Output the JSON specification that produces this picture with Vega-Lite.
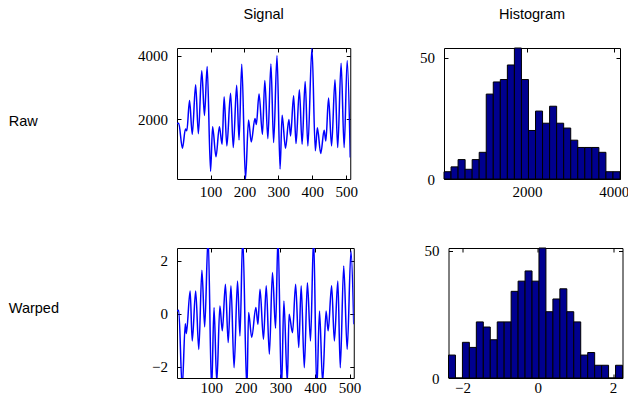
{
  "$schema": "https://vega.github.io/schema/vega-lite/v6.json",
  "padding": {"left": 7, "top": 6, "right": 5, "bottom": 5},
  "background": "white",
  "config": {
    "view": {"stroke": "#000000", "strokeWidth": 1},
    "axis": {"domain": false, "grid": false, "ticks": true, "tickColor": "#000000", "tickSize": -4, "tickWidth": 1, "labelFont": "Liberation Serif", "labelFontSize": 15, "labelColor": "#000000", "titleFont": "Liberation Sans", "titleFontSize": 14.5, "titleFontWeight": "normal", "titleColor": "#000000"},
    "axisY": {"labelPadding": 13.5},
    "title": {"font": "Liberation Sans", "fontSize": 14.5, "fontWeight": "normal", "color": "#000000", "baseline": "bottom", "offset": 25, "anchor": "middle"}
  },
  "datasets": {
    "raw": [
      {"t": 1, "v": 1874}, {"t": 6, "v": 1880}, {"t": 17, "v": 1093}, {"t": 26, "v": 1700}, {"t": 30, "v": 1640}, {"t": 38, "v": 2593}, {"t": 46, "v": 1531}, {"t": 56, "v": 3094}, {"t": 64, "v": 1551}, {"t": 74, "v": 3531}, {"t": 82, "v": 2125}, {"t": 90, "v": 3667}, {"t": 100, "v": 364}, {"t": 106, "v": 1770}, {"t": 116, "v": 822}, {"t": 126, "v": 1770}, {"t": 134, "v": 1218}, {"t": 140, "v": 2718}, {"t": 148, "v": 1166}, {"t": 159, "v": 2823}, {"t": 167, "v": 1114}, {"t": 177, "v": 3073}, {"t": 184, "v": 1353}, {"t": 192, "v": 3740}, {"t": 203, "v": 124}, {"t": 212, "v": 1979}, {"t": 220, "v": 1291}, {"t": 231, "v": 2031}, {"t": 235, "v": 1843}, {"t": 243, "v": 2802}, {"t": 253, "v": 1531}, {"t": 260, "v": 3229}, {"t": 269, "v": 1395}, {"t": 278, "v": 3750}, {"t": 286, "v": 1270}, {"t": 296, "v": 4011}, {"t": 305, "v": 437}, {"t": 311, "v": 2135}, {"t": 321, "v": 1093}, {"t": 331, "v": 1999}, {"t": 336, "v": 1478}, {"t": 345, "v": 2750}, {"t": 352, "v": 1239}, {"t": 362, "v": 2937}, {"t": 370, "v": 1218}, {"t": 379, "v": 3198}, {"t": 387, "v": 1166}, {"t": 399, "v": 4250}, {"t": 409, "v": 1010}, {"t": 415, "v": 1739}, {"t": 425, "v": 926}, {"t": 435, "v": 1656}, {"t": 440, "v": 1322}, {"t": 448, "v": 2677}, {"t": 457, "v": 1166}, {"t": 467, "v": 3250}, {"t": 475, "v": 1114}, {"t": 485, "v": 3771}, {"t": 494, "v": 1114}, {"t": 503, "v": 3854}, {"t": 512, "v": 801}
    ],
    "warped": [
      {"t": 1, "v": 0.10}, {"t": 6, "v": 0.13}, {"t": 16, "v": -2.8}, {"t": 25, "v": -0.38}, {"t": 28, "v": -0.75}, {"t": 39, "v": 0.86}, {"t": 45, "v": -1.03}, {"t": 55, "v": 0.86}, {"t": 64, "v": -1.35}, {"t": 73, "v": 1.64}, {"t": 81, "v": -0.50}, {"t": 91, "v": 2.9}, {"t": 101, "v": -2.9}, {"t": 108, "v": 0.23}, {"t": 116, "v": -2.6}, {"t": 125, "v": 0.29}, {"t": 132, "v": -0.65}, {"t": 141, "v": 1.11}, {"t": 149, "v": -1.09}, {"t": 157, "v": 1.05}, {"t": 166, "v": -2.04}, {"t": 176, "v": 1.23}, {"t": 183, "v": -0.84}, {"t": 191, "v": 2.9}, {"t": 203, "v": -2.9}, {"t": 208, "v": 0.04}, {"t": 217, "v": -0.90}, {"t": 229, "v": 0.23}, {"t": 235, "v": -0.40}, {"t": 241, "v": 0.92}, {"t": 251, "v": -0.97}, {"t": 259, "v": 1.05}, {"t": 268, "v": -1.53}, {"t": 277, "v": 1.55}, {"t": 286, "v": -0.55}, {"t": 293, "v": 2.9}, {"t": 303, "v": -2.9}, {"t": 310, "v": 0.48}, {"t": 320, "v": -2.6}, {"t": 325, "v": -0.02}, {"t": 335, "v": -0.72}, {"t": 344, "v": 1.11}, {"t": 353, "v": -1.28}, {"t": 360, "v": 1.05}, {"t": 369, "v": -2.04}, {"t": 378, "v": 1.17}, {"t": 387, "v": -1.03}, {"t": 396, "v": 2.9}, {"t": 405, "v": -2.9}, {"t": 413, "v": 0.10}, {"t": 422, "v": -2.6}, {"t": 432, "v": 0.10}, {"t": 438, "v": -0.65}, {"t": 448, "v": 1.05}, {"t": 456, "v": -1.03}, {"t": 466, "v": 1.23}, {"t": 473, "v": -2.04}, {"t": 483, "v": 1.80}, {"t": 493, "v": -1.35}, {"t": 504, "v": 2.37}, {"t": 512, "v": -0.40}
    ],
    "hraw": [
      {"x0": 85, "x1": 247.4, "n": 3}, {"x0": 247.4, "x1": 409.8, "n": 5}, {"x0": 409.8, "x1": 572.2, "n": 8}, {"x0": 572.2, "x1": 734.6, "n": 4}, {"x0": 734.6, "x1": 897, "n": 8}, {"x0": 897, "x1": 1059.4, "n": 11}, {"x0": 1059.4, "x1": 1221.8, "n": 35}, {"x0": 1221.8, "x1": 1384.2, "n": 40}, {"x0": 1384.2, "x1": 1546.6, "n": 41}, {"x0": 1546.6, "x1": 1709, "n": 47}, {"x0": 1709, "x1": 1871.4, "n": 54}, {"x0": 1871.4, "x1": 2033.8, "n": 41}, {"x0": 2033.8, "x1": 2196.2, "n": 20}, {"x0": 2196.2, "x1": 2358.6, "n": 28}, {"x0": 2358.6, "x1": 2521, "n": 23}, {"x0": 2521, "x1": 2683.4, "n": 30}, {"x0": 2683.4, "x1": 2845.8, "n": 23}, {"x0": 2845.8, "x1": 3008.2, "n": 21}, {"x0": 3008.2, "x1": 3170.6, "n": 16}, {"x0": 3170.6, "x1": 3333, "n": 13}, {"x0": 3333, "x1": 3495.4, "n": 13}, {"x0": 3495.4, "x1": 3657.8, "n": 13}, {"x0": 3657.8, "x1": 3820.2, "n": 11}, {"x0": 3820.2, "x1": 3982.6, "n": 3}, {"x0": 3982.6, "x1": 4145, "n": 3}
    ],
    "hwarp": [
      {"x0": -2.370, "x1": -2.185, "n": 9}, {"x0": -2.185, "x1": -2.000, "n": 0}, {"x0": -2.000, "x1": -1.816, "n": 14}, {"x0": -1.816, "x1": -1.631, "n": 12}, {"x0": -1.631, "x1": -1.446, "n": 22}, {"x0": -1.446, "x1": -1.261, "n": 20}, {"x0": -1.261, "x1": -1.076, "n": 15}, {"x0": -1.076, "x1": -0.892, "n": 22}, {"x0": -0.892, "x1": -0.707, "n": 22}, {"x0": -0.707, "x1": -0.522, "n": 34}, {"x0": -0.522, "x1": -0.337, "n": 38}, {"x0": -0.337, "x1": -0.152, "n": 42}, {"x0": -0.152, "x1": 0.032, "n": 38}, {"x0": 0.032, "x1": 0.217, "n": 51}, {"x0": 0.217, "x1": 0.402, "n": 26}, {"x0": 0.402, "x1": 0.587, "n": 31}, {"x0": 0.587, "x1": 0.772, "n": 35}, {"x0": 0.772, "x1": 0.956, "n": 26}, {"x0": 0.956, "x1": 1.141, "n": 22}, {"x0": 1.141, "x1": 1.326, "n": 9}, {"x0": 1.326, "x1": 1.511, "n": 10}, {"x0": 1.511, "x1": 1.696, "n": 5}, {"x0": 1.696, "x1": 1.880, "n": 5}, {"x0": 1.880, "x1": 2.065, "n": 0}, {"x0": 2.065, "x1": 2.250, "n": 5}
    ]
  },
  "bounds": "full",
  "spacing": 42,
  "vconcat": [
    {
      "bounds": "flush",
      "spacing": 93,
      "hconcat": [
        {
          "width": 173.25, "height": 131,
          "title": {"text": "Signal"},
          "data": {"name": "raw"},
          "resolve": {"axis": {"x": "independent", "y": "independent"}},
          "layer": [
            {
              "mark": {"type": "line", "color": "#0000ff", "strokeWidth": 1.5, "interpolate": "monotone", "clip": true},
              "encoding": {
                "x": {"field": "t", "type": "quantitative", "scale": {"domain": [1, 512], "nice": false, "zero": false}, "axis": {"values": [100, 200, 300, 400, 500], "format": "d", "title": null, "labelPadding": 9.7}},
                "y": {"field": "v", "type": "quantitative", "scale": {"domain": [124, 4250], "nice": false, "zero": false}, "axis": {"values": [2000, 4000], "format": "d", "title": "Raw", "titleAngle": 0, "titleAlign": "left", "titleBaseline": "middle", "titleX": -168.75, "titleY": 73}}
              }
            },
            {
              "mark": {"type": "line", "opacity": 0, "clip": true},
              "encoding": {
                "x": {"field": "t", "type": "quantitative", "scale": {"domain": [1, 512], "nice": false, "zero": false}, "axis": {"orient": "top", "values": [100, 200, 300, 400, 500], "labels": false, "title": null}},
                "y": {"field": "v", "type": "quantitative", "scale": {"domain": [124, 4250], "nice": false, "zero": false}, "axis": {"orient": "right", "values": [2000, 4000], "labels": false, "title": null}}
              }
            }
          ]
        },
        {
          "width": 176, "height": 131,
          "title": {"text": "Histogram"},
          "data": {"name": "hraw"},
          "resolve": {"axis": {"x": "independent", "y": "independent"}},
          "layer": [
            {
              "mark": {"type": "rect", "fill": "#00008f", "stroke": "#000000", "strokeWidth": 1},
              "encoding": {
                "x": {"field": "x0", "type": "quantitative", "scale": {"domain": [85, 4145], "nice": false, "zero": false}, "axis": {"values": [2000, 4000], "format": "d", "title": null, "labelPadding": 9.7}},
                "x2": {"field": "x1"},
                "y": {"field": "n", "type": "quantitative", "scale": {"domain": [0, 54], "nice": false}, "axis": {"values": [0, 50], "format": "d", "title": null}},
                "y2": {"datum": 0}
              }
            },
            {
              "mark": {"type": "rect", "opacity": 0},
              "encoding": {
                "x": {"field": "x0", "type": "quantitative", "scale": {"domain": [85, 4145], "nice": false, "zero": false}, "axis": {"orient": "top", "values": [2000, 4000], "labels": false, "title": null}},
                "x2": {"field": "x1"},
                "y": {"field": "n", "type": "quantitative", "scale": {"domain": [0, 54], "nice": false}, "axis": {"orient": "right", "values": [0, 50], "labels": false, "title": null}},
                "y2": {"datum": 0}
              }
            }
          ]
        }
      ]
    },
    {
      "bounds": "flush",
      "spacing": 94.5,
      "hconcat": [
        {
          "width": 176.75, "height": 130,
          "data": {"name": "warped"},
          "resolve": {"axis": {"x": "independent", "y": "independent"}},
          "layer": [
            {
              "mark": {"type": "line", "color": "#0000ff", "strokeWidth": 1.5, "interpolate": "monotone", "clip": true},
              "encoding": {
                "x": {"field": "t", "type": "quantitative", "scale": {"domain": [1, 512], "nice": false, "zero": false}, "axis": {"values": [100, 200, 300, 400, 500], "format": "d", "title": null, "labelPadding": 6.2}},
                "y": {"field": "v", "type": "quantitative", "scale": {"domain": [-2.43, 2.48], "nice": false, "zero": false}, "axis": {"values": [-2, 0, 2], "format": "d", "title": "Warped", "titleAngle": 0, "titleAlign": "left", "titleBaseline": "middle", "titleX": -168.75, "titleY": 60.5}}
              }
            },
            {
              "mark": {"type": "line", "opacity": 0, "clip": true},
              "encoding": {
                "x": {"field": "t", "type": "quantitative", "scale": {"domain": [1, 512], "nice": false, "zero": false}, "axis": {"orient": "top", "values": [100, 200, 300, 400, 500], "labels": false, "title": null}},
                "y": {"field": "v", "type": "quantitative", "scale": {"domain": [-2.43, 2.48], "nice": false, "zero": false}, "axis": {"orient": "right", "values": [-2, 0, 2], "labels": false, "title": null}}
              }
            }
          ]
        },
        {
          "width": 174, "height": 130,
          "data": {"name": "hwarp"},
          "resolve": {"axis": {"x": "independent", "y": "independent"}},
          "layer": [
            {
              "mark": {"type": "rect", "fill": "#00008f", "stroke": "#000000", "strokeWidth": 1},
              "encoding": {
                "x": {"field": "x0", "type": "quantitative", "scale": {"domain": [-2.37, 2.25], "nice": false, "zero": false}, "axis": {"values": [-2, 0, 2], "format": "d", "title": null, "labelPadding": 6.2}},
                "x2": {"field": "x1"},
                "y": {"field": "n", "type": "quantitative", "scale": {"domain": [0, 51], "nice": false}, "axis": {"values": [0, 50], "format": "d", "title": null}},
                "y2": {"datum": 0}
              }
            },
            {
              "mark": {"type": "rect", "opacity": 0},
              "encoding": {
                "x": {"field": "x0", "type": "quantitative", "scale": {"domain": [-2.37, 2.25], "nice": false, "zero": false}, "axis": {"orient": "top", "values": [-2, 0, 2], "labels": false, "title": null}},
                "x2": {"field": "x1"},
                "y": {"field": "n", "type": "quantitative", "scale": {"domain": [0, 51], "nice": false}, "axis": {"orient": "right", "values": [0, 50], "labels": false, "title": null}},
                "y2": {"datum": 0}
              }
            }
          ]
        }
      ]
    }
  ]
}
